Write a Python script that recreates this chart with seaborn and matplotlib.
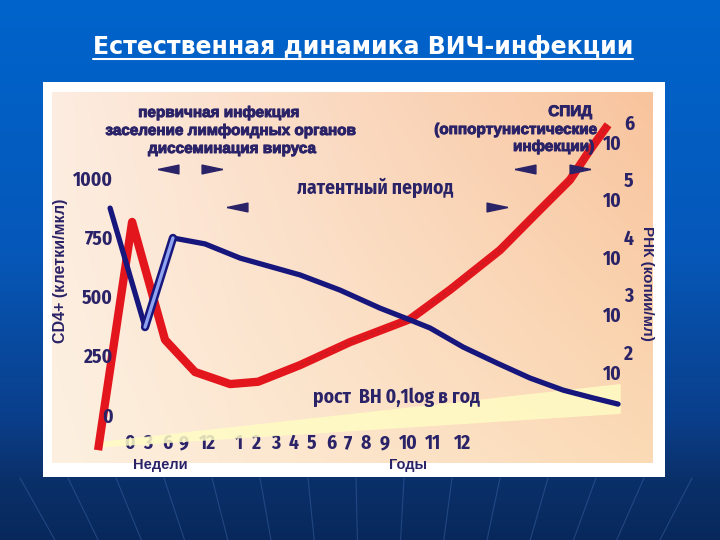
import numpy as np
import matplotlib
matplotlib.use('Agg')
import matplotlib.pyplot as plt
import matplotlib.patheffects as pe
from matplotlib.font_manager import FontProperties
from matplotlib.patches import Rectangle
from matplotlib.path import Path
import seaborn as sns

sns.set_theme(style='white')
plt.rcParams['font.family'] = ['Liberation Sans', 'DejaVu Sans']

# --- данные ---
week_ticks = [0, 3, 6, 9, 12]
year_ticks = list(range(1, 13))
tick_labels = [str(w) for w in week_ticks] + [str(y) for y in year_ticks]
# позиции подписей оси времени (шкала неравномерная, как на слайде)
tick_slots = [0, 0.97, 2.0, 2.92, 4.2, 5.9, 6.86, 7.9, 8.86, 9.84,
              10.86, 11.78, 12.76, 13.78, 15.03, 16.38, 17.95]

cd4_ticks = [0, 250, 500, 750, 1000]
rna_exps = [2, 3, 4, 5, 6]

# CD4+ (клетки/мкл)
cd4_x = [-1.08, 0.81, 2.32, 4.05, 5.95, 9.19, 11.35, 13.51, 15.14,
         16.22, 18.0, 19.84, 21.62, 23.41, 25.03, 26.38]
cd4_y = [873, 371, 747, 722, 662, 591, 527, 451, 401,
         367, 287, 219, 156, 105, 72, 46]

# РНК (lg копий/мл)
rna_x = [-1.73, 0.11, 1.89, 3.51, 5.41, 6.92, 9.19, 11.89, 15.14,
         17.30, 20.0, 22.16, 23.78, 24.86, 25.84]
rna_lg = [0.64, 4.61, 2.56, 2.0, 1.79, 1.83, 2.12, 2.52, 2.92,
          3.43, 4.12, 4.82, 5.34, 5.86, 6.30]

# полоса "рост ВН 0,1log в год"
band_x = [-1.5, 26.5]
band_lo = [0.70, 1.28]
band_hi = [0.80, 1.80]

navy = '#16167c'
red = '#e4161d'
txt = '#2b2368'

W, H = 720, 540
fig = plt.figure(figsize=(7.2, 5.4), dpi=100)

# фон слайда
bg = fig.add_axes([0, 0, 1, 1], zorder=-5)
bg.set_xlim(0, W)
bg.set_ylim(H, 0)
bg.axis('off')
stops_y = [0, 250, 420, 480, 540]
stops_c = np.array([[0, 100, 204], [6, 88, 185], [10, 62, 138], [10, 48, 105], [8, 40, 92]]) / 255
yy = np.arange(H)
grad = np.stack([np.interp(yy, stops_y, stops_c[:, i]) for i in range(3)], axis=-1)
grad = np.repeat(grad[:, None, :], 4, axis=1)
bg.imshow(grad, extent=(0, W, H, 0), aspect='auto', zorder=0)
for x0 in np.arange(20, 720, 48):
    vx, vy = 370, 1100
    t = (540 - 478) / (vy - 478)
    bg.plot([x0, x0 + (vx - x0) * t], [478, 540], color='#4f7cc0', lw=0.8, alpha=0.35, zorder=1)
bg.add_patch(Rectangle((43, 82), 622, 395, facecolor='white', edgecolor='none', zorder=2))

# область графика
L, R, T, B = 52, 653, 92, 463
ax = fig.add_axes([L / W, 1 - B / H, (R - L) / W, (B - T) / H])
ax2 = ax.twinx()

# персиковый градиент
c_tl = np.array([253, 236, 224]) / 255
c_tr = np.array([248, 196, 158]) / 255
c_bl = np.array([253, 240, 224]) / 255
c_br = np.array([251, 218, 182]) / 255
u = np.linspace(0, 1, 60)[None, :, None]
v = np.linspace(0, 1, 40)[:, None, None]
peach = (1 - v) * ((1 - u) * c_tl + u * c_tr) + v * ((1 - u) * c_bl + u * c_br)
ax.imshow(peach, extent=(0, 1, 0, 1), transform=ax.transAxes, aspect='auto',
          interpolation='bilinear', zorder=0)

ax.set_yscale('log')
ax.fill_between(band_x, [10 ** b for b in band_lo], [10 ** b for b in band_hi],
                color='#fffcc4', alpha=0.85, lw=0, zorder=1)

rna_vals = [10 ** v_ for v_ in rna_lg]
sns.lineplot(x=rna_x, y=rna_vals, ax=ax, color=red, lw=6, sort=False, zorder=3,
             solid_capstyle='butt')
sns.lineplot(x=rna_x[6:], y=rna_vals[6:], ax=ax, color='#a8242a', lw=1, sort=False,
             zorder=4, alpha=0.6, linestyle=(0, (3, 2)))

sns.lineplot(x=cd4_x, y=cd4_y, ax=ax2, color=navy, lw=3.8, sort=False, zorder=3)
sns.lineplot(x=cd4_x[1:3], y=cd4_y[1:3], ax=ax2, color=navy, lw=6, sort=False, zorder=4)
sns.lineplot(x=cd4_x[1:3], y=cd4_y[1:3], ax=ax2, color='#8fa3f0', lw=2.4, sort=False, zorder=5)

ax.set_xlim(-4.22, 28.27)
ax.set_ylim(10 ** 0.417, 10 ** 6.87)
ax2.set_ylim(-202.5, 1362.9)

ax.set_xticks(tick_slots, labels=tick_labels)
ax.yaxis.tick_right()
ax.set_yticks([10 ** e for e in rna_exps], labels=['10'] * len(rna_exps))
ax.minorticks_off()
ax2.yaxis.tick_left()
ax2.set_yticks(cd4_ticks, labels=[str(c) for c in cd4_ticks])

num_fp = FontProperties(family=['Fira Sans Condensed', 'Liberation Sans'], weight=700, size=14)
for lab in ax.get_xticklabels() + ax.get_yticklabels() + ax2.get_yticklabels():
    lab.set_fontproperties(num_fp)
    lab.set_color(txt)
ax.tick_params(axis='x', length=0, pad=-21)
ax.tick_params(axis='y', length=0, pad=-36)
ax2.tick_params(axis='y', length=0, pad=-44)
for a in (ax, ax2):
    a.grid(False)
    for s in a.spines.values():
        s.set_visible(False)
    a.set_xlabel('')
    a.set_ylabel('')

for e in rna_exps:
    ax.annotate(str(e), xy=(1, 10 ** e), xycoords=('axes fraction', 'data'),
                xytext=(-21, 13), textcoords='offset points', ha='left', va='center',
                color=txt, fontproperties=num_fp)

# подписи поверх графика
ov = fig.add_axes([0, 0, 1, 1], zorder=10)
ov.set_xlim(0, W)
ov.set_ylim(H, 0)
ov.axis('off')
ov.patch.set_alpha(0)

thick = [pe.withStroke(linewidth=0.7, foreground=txt)]
wide = dict(color=txt, weight='bold', size=11, family=['Liberation Sans', 'DejaVu Sans'],
            path_effects=thick)
narrow = dict(color=txt, fontproperties=FontProperties(
    family=['Fira Sans Condensed', 'Liberation Sans'], weight=700, size=14))
ov.text(219, 113, 'первичная инфекция', ha='center', va='center', **wide)
ov.text(231, 131, 'заселение лимфоидных органов', ha='center', va='center', **wide)
ov.text(232, 149, 'диссеминация вируса', ha='center', va='center', **wide)
ov.text(592, 112, 'СПИД', ha='right', va='center', **wide)
ov.text(597, 130, '(оппортунистические', ha='right', va='center', **wide)
ov.text(594, 147, 'инфекции)', ha='right', va='center', **wide)
ov.text(375, 188, 'латентный период', ha='center', va='center', **narrow)
ov.text(396, 397, 'рост  ВН 0,1log в год', ha='center', va='center', **narrow)
ov.text(160, 465, 'Недели', ha='center', va='center', color=txt, weight='bold', size=10.5)
ov.text(408, 465, 'Годы', ha='center', va='center', color=txt, weight='bold', size=10.5)
ov.text(60, 271, 'CD4+ (клетки/мкл)', ha='center', va='center', rotation=90, color=txt,
        weight='bold', size=11.5)
ov.text(647, 283, 'РНК (копии/мл)', ha='center', va='center', rotation=-90, color=txt,
        weight='bold', size=11)

left_tri = Path([(-1, 0), (1, 0.42), (1, -0.42), (-1, 0)])
right_tri = Path([(1, 0), (-1, 0.42), (-1, -0.42), (1, 0)])
for (px, py, m) in [(168, 169, left_tri), (212, 169, right_tri), (237, 207, left_tri),
                    (497, 207, right_tri), (525, 169, left_tri), (580, 169, right_tri)]:
    ov.plot(px, py, marker=m, markersize=15, color=txt, mec=txt)

title = fig.text(363 / W, 1 - 47 / H, 'Естественная динамика ВИЧ-инфекции', ha='center',
                 va='center', color='white', weight='bold', size=17, family='DejaVu Sans')
fig.canvas.draw()
bb = title.get_window_extent()
ov.plot([bb.x0, bb.x1], [59, 59], color='white', lw=1.5)

fig.savefig('out.png', dpi=100)
